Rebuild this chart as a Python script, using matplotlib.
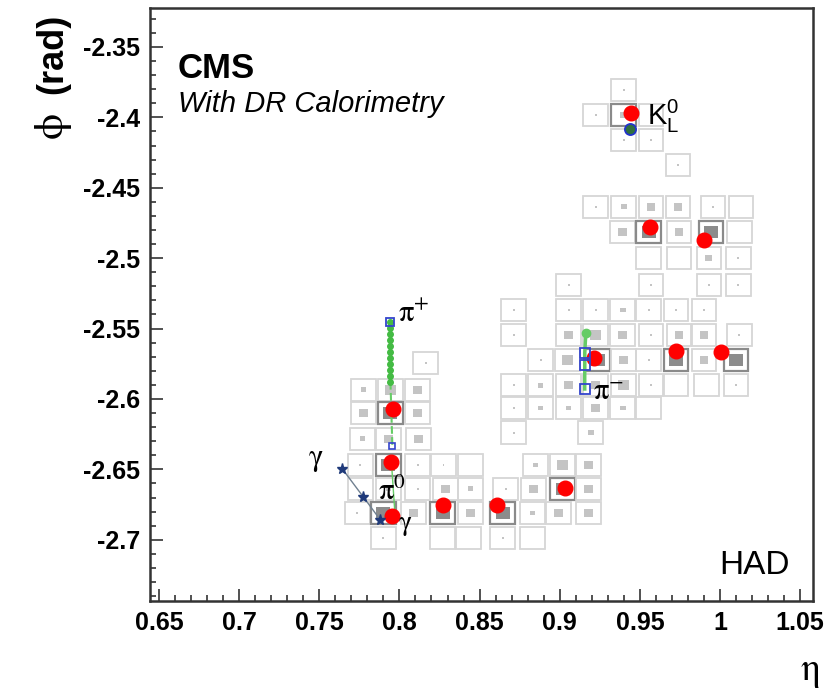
import numpy as np
import matplotlib
matplotlib.use('Agg')
import matplotlib.pyplot as plt
from matplotlib.patches import Rectangle
from matplotlib.ticker import MultipleLocator, FormatStrFormatter

plt.rcParams['font.family'] = ['Liberation Sans', 'DejaVu Sans']
plt.rcParams['axes.unicode_minus'] = False

# HCAL towers: eta, phi and relative energy (0 = empty tower)
cell_eta = [
    # K0L corner
    0.9400, 0.9225, 0.9400, 0.9569, 0.9400, 0.9569, 0.9738,
    # upper right group
    0.9225, 0.9400, 0.9569, 0.9738, 0.9956, 1.0131,
    0.9394, 0.9556, 0.9744, 0.9944, 1.0119,
    0.9556, 0.9744, 0.9931, 1.0113,
    0.9056, 0.9569, 0.9931, 1.0113,
    # middle group
    0.8713, 0.9056, 0.9225, 0.9394, 0.9556, 0.9725, 0.9900,
    0.8713, 0.9056, 0.9225, 0.9394, 0.9569, 0.9744, 0.9900, 1.0119,
    0.8881, 0.9050, 0.9238, 0.9400, 0.9556, 0.9725, 0.9900, 1.0100,
    0.8713, 0.8881, 0.9056, 0.9225, 0.9400, 0.9569, 0.9725, 0.9913, 1.0100,
    0.8713, 0.8881, 0.9056, 0.9225, 0.9394, 0.9556,
    0.8713, 0.9194,
    # left and lower groups
    0.8163,
    0.7775, 0.7944, 0.8113,
    0.7775, 0.7944, 0.8113,
    0.7769, 0.7931, 0.8119,
    0.7756, 0.7931, 0.8113, 0.8275, 0.8444, 0.8850, 0.9019, 0.9181,
    0.7756, 0.7931, 0.8113, 0.8288, 0.8444, 0.8663, 0.8838, 0.9019, 0.9181,
    0.7738, 0.7900, 0.8088, 0.8269, 0.8444, 0.8644, 0.8831, 0.8994, 0.9181,
    0.7900, 0.8269, 0.8431, 0.8644, 0.8831,
]
cell_phi = [
    -2.3805, -2.3983, -2.3983, -2.3983, -2.4161, -2.4161, -2.4338,
    -2.4636, -2.4636, -2.4636, -2.4636, -2.4636, -2.4636,
    -2.4814, -2.4814, -2.4814, -2.4814, -2.4814,
    -2.4999, -2.4999, -2.4999, -2.4999,
    -2.5190, -2.5190, -2.5190, -2.5190,
    -2.5368, -2.5368, -2.5368, -2.5368, -2.5368, -2.5368, -2.5368,
    -2.5545, -2.5545, -2.5545, -2.5545, -2.5545, -2.5545, -2.5545, -2.5545,
    -2.5723, -2.5723, -2.5723, -2.5723, -2.5723, -2.5723, -2.5723, -2.5723,
    -2.5901, -2.5901, -2.5901, -2.5901, -2.5901, -2.5901, -2.5901, -2.5901, -2.5901,
    -2.6064, -2.6064, -2.6064, -2.6064, -2.6064, -2.6064,
    -2.6241, -2.6241,
    -2.5744,
    -2.5936, -2.5936, -2.5936,
    -2.6099, -2.6099, -2.6099,
    -2.6284, -2.6284, -2.6284,
    -2.6469, -2.6469, -2.6469, -2.6469, -2.6469, -2.6469, -2.6469, -2.6469,
    -2.6639, -2.6639, -2.6639, -2.6639, -2.6639, -2.6639, -2.6639, -2.6639, -2.6639,
    -2.6810, -2.6810, -2.6810, -2.6810, -2.6810, -2.6810, -2.6810, -2.6810, -2.6810,
    -2.6987, -2.6987, -2.6987, -2.6987, -2.6987,
]
cell_e = [
    0.02, 0.02, 0.25, 0.02, 0.02, 0.02, 0.02,
    0.02, 0.15, 0.40, 0.40, 0.02, 0.00,
    0.40, 1.00, 0.40, 1.00, 0.00,
    0.00, 0.00, 0.25, 0.02,
    0.02, 0.02, 0.02, 0.02,
    0.02, 0.02, 0.02, 0.15, 0.02, 0.02, 0.02,
    0.02, 0.40, 0.60, 0.40, 0.02, 0.40, 0.40, 0.02,
    0.02, 0.60, 1.00, 0.40, 0.02, 1.00, 0.40, 1.00,
    0.02, 0.15, 0.40, 0.40, 0.60, 0.02, 0.00, 0.00, 0.02,
    0.02, 0.15, 0.15, 0.40, 0.15, 0.00,
    0.02, 0.15,
    0.02,
    0.15, 0.60, 0.40,
    0.40, 1.00, 0.40,
    0.15, 0.40, 0.40,
    0.02, 1.00, 0.02, 0.02, 0.00, 0.15, 0.60, 0.40,
    0.00, 0.15, 0.02, 0.40, 0.15, 0.02, 0.40, 1.00, 0.40,
    0.02, 1.00, 0.40, 1.00, 0.40, 1.00, 0.15, 0.40, 0.40,
    0.02, 0.00, 0.00, 0.02, 0.00,
]

# reconstructed cluster positions
clu_eta = [0.9444, 0.9563, 0.9900, 0.9213, 0.9725, 1.0006,
           0.7963, 0.7950, 0.7956, 0.8269, 0.8606, 0.9031]
clu_phi = [-2.3969, -2.4778, -2.4871, -2.5709, -2.5659, -2.5666,
           -2.6071, -2.6447, -2.6831, -2.6753, -2.6753, -2.6632]

# charged track points
pip_eta = [0.7944] * 11
pip_phi = [-2.5453, -2.5496, -2.5538, -2.5581, -2.5624, -2.5666,
           -2.5709, -2.5751, -2.5794, -2.5837, -2.5879]
pip_tail_eta = [0.7944, 0.7956]
pip_tail_phi = [-2.5879, -2.6334]
pim_eta = [0.9163, 0.9156, 0.9156, 0.9156]
pim_phi = [-2.5531, -2.5673, -2.5758, -2.5929]
# photon points
gam_eta = [0.7644, 0.7775, 0.7881]
gam_phi = [-2.6497, -2.6696, -2.6859]
pi0_eta = [0.7950, 0.7975]
pi0_phi = [-2.6447, -2.6866]
k0_eta, k0_phi = 0.9438, -2.4082

fig = plt.figure(figsize=(8.28, 6.91), dpi=100)
ax = fig.add_axes([150 / 828, 1 - 601 / 691, 663 / 828, 593 / 691])
ax.set_xlim(0.6444, 1.058)
ax.set_ylim(-2.7435, -2.3223)

# seed tower = tower closest to each cluster
ce, cp, en = np.array(cell_eta), np.array(cell_phi), np.array(cell_e)
seeds = set()
for x, y in zip(clu_eta, clu_phi):
    seeds.add(int(np.argmin((ce - x) ** 2 + (cp - y) ** 2)))

w, h = 0.0155, 0.0162
for i in range(len(ce)):
    edge = '#8a8a8a' if i in seeds else '#d6d6d6'
    lw = 1.6 if i in seeds else 1.3
    ax.add_patch(Rectangle((ce[i] - w / 2, cp[i] - h / 2), w, h, facecolor='none',
                           edgecolor=edge, lw=lw, zorder=2))
    if en[i] > 0:
        f = 0.56 * np.sqrt(en[i])
        col = '#8c8c8c' if en[i] >= 0.8 else '#c4c4c4'
        ax.add_patch(Rectangle((ce[i] - f * w / 2, cp[i] - f * h / 2), f * w, f * h,
                               facecolor=col, edgecolor='none', zorder=3))

# tracks
ax.plot(pip_eta, pip_phi, '-', color='#66cc66', lw=2.5, zorder=4)
ax.plot(pip_eta, pip_phi, 'o', color='#44bb44', ms=4, zorder=5)
ax.plot(pip_tail_eta, pip_tail_phi, '--', color='#66cc66', lw=1.5, zorder=4)
ax.plot(pip_eta[0], pip_phi[0], 's', mfc='none', mec='#3344cc', ms=6, mew=1.3, zorder=6)
ax.plot(pip_tail_eta[1], pip_tail_phi[1], 's', mfc='none', mec='#3344cc', ms=5, mew=1.2, zorder=6)
ax.plot(pi0_eta, pi0_phi, '-', color='#66cc66', lw=1.0, zorder=4)

ax.plot(clu_eta, clu_phi, 'o', color='red', ms=10.5, zorder=7)

ax.plot(pim_eta, pim_phi, '-', color='#66cc66', lw=2.5, zorder=8)
ax.plot(pim_eta[0], pim_phi[0], 'o', color='#66cc66', ms=6, zorder=8)
ax.plot(pim_eta[1:], pim_phi[1:], 's', mfc='none', mec='#3344cc', ms=7, mew=1.3, zorder=9)

ax.plot(gam_eta, gam_phi, '-', color='#708090', lw=1.0, zorder=8)
ax.plot(gam_eta, gam_phi, '*', color='#1f3a7a', ms=8, zorder=9)

ax.plot(k0_eta, k0_phi, 'o', mfc='#2f6f3f', mec='#2233cc', ms=8, mew=1.3, zorder=9)

# particle labels
greek = dict(fontsize=22, math_fontfamily='stix', zorder=10)
ax.text(0.7994, -2.5453, r'$\mathrm{\pi}^{+}$', **greek)
ax.text(0.7869, -2.6717, r'$\mathrm{\pi}^{0}$', **greek)
ax.text(0.9206, -2.6007, r'$\mathrm{\pi}^{-}$', **greek)
ax.text(0.7431, -2.6469, r'$\mathrm{\gamma}$', **greek)
ax.text(0.7990, -2.6930, r'$\mathrm{\gamma}$', fontsize=20, math_fontfamily='stix', zorder=10)
ax.text(0.9544, -2.4054, r'$\mathregular{K^0_L}$', fontsize=21, zorder=10)

ax.text(0.042, 0.882, 'CMS', fontsize=25, fontweight='bold', transform=ax.transAxes)
ax.text(0.042, 0.824, 'With DR Calorimetry', fontsize=21, style='italic', transform=ax.transAxes)
ax.text(0.965, 0.046, 'HAD', fontsize=24, ha='right', transform=ax.transAxes)

# axes in ROOT style
ax.xaxis.set_major_locator(MultipleLocator(0.05))
ax.xaxis.set_minor_locator(MultipleLocator(0.01))
ax.yaxis.set_major_locator(MultipleLocator(0.05))
ax.yaxis.set_minor_locator(MultipleLocator(0.01))
ax.xaxis.set_major_formatter(FormatStrFormatter('%g'))
ax.yaxis.set_major_formatter(FormatStrFormatter('%g'))
ax.tick_params(which='both', direction='in', top=False, right=False, width=1.2, color='#333333')
ax.tick_params(which='major', length=9, pad=7, labelsize=18)
ax.tick_params(which='minor', length=4.5)
for lab in ax.get_xticklabels() + ax.get_yticklabels():
    lab.set_fontweight('bold')
for s in ax.spines.values():
    s.set_linewidth(1.8)
    s.set_color('#333333')

# axis titles, placed at the far ends as ROOT does
fig.text(53 / 828, 1 - 14 / 691, '(rad)', rotation=90, ha='center', va='top',
         fontsize=26, fontweight='bold')
fig.text(54 / 828, 1 - 127 / 691, r'$\mathrm{\phi}$', rotation=90, ha='center', va='center',
         fontsize=30, math_fontfamily='stix')
fig.text(820 / 828, 1 - 680 / 691, r'$\mathrm{\eta}$', ha='right', va='baseline',
         fontsize=28, math_fontfamily='stix')

fig.savefig('out.png', dpi=100)
